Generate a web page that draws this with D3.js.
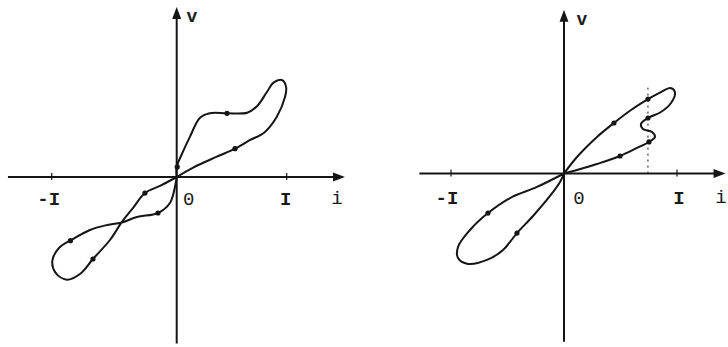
<!DOCTYPE html>
<html>
<head>
<meta charset="utf-8">
<script src="https://cdn.jsdelivr.net/npm/d3@7"></script>
<style>
  body { margin: 0; background: #fff; }
  text { font-family: "Liberation Mono", "DejaVu Sans Mono", monospace; fill: #1a1a1a; }
</style>
</head>
<body>
<div id="chart"></div>
<script>
// i (in units of I) and v
const leftUpper = [
  [0, 0], [0, 0.085], [0.05, 0.2], [0.12, 0.34], [0.21, 0.5], [0.3, 0.54],
  [0.46, 0.54], [0.64, 0.545], [0.73, 0.6], [0.82, 0.72], [0.88, 0.8],
  [0.96, 0.82], [0.995, 0.76], [0.985, 0.68], [0.91, 0.51], [0.8, 0.38],
  [0.66, 0.31], [0.53, 0.24], [0.36, 0.17], [0.15, 0.08], [0, 0]
];
const leftLower = [
  [0, 0], [-0.134, -0.076], [-0.254, -0.136], [-0.346, -0.258], [-0.438, -0.381],
  [-0.534, -0.534], [-0.67, -0.695], [-0.774, -0.822], [-0.88, -0.87],
  [-0.97, -0.81], [-0.995, -0.71], [-0.94, -0.6], [-0.82, -0.52],
  [-0.694, -0.449], [-0.57, -0.41], [-0.438, -0.385], [-0.318, -0.339],
  [-0.15, -0.305], [-0.054, -0.22], [-0.014, -0.085], [0, 0]
];
const leftMarks = [
  [0.005, 0.085], [0.457, 0.54], [0.53, 0.24],
  [-0.254, -0.136], [-0.67, -0.695], [-0.85, -0.54], [-0.15, -0.305]
];

const rightUpper = [
  [0, 0], [0.115, 0.146], [0.292, 0.323], [0.442, 0.447], [0.593, 0.562],
  [0.743, 0.659], [0.858, 0.721], [0.94, 0.757], [0.982, 0.72], [0.947, 0.624],
  [0.858, 0.544], [0.743, 0.491], [0.681, 0.438], [0.699, 0.394], [0.779, 0.367],
  [0.805, 0.323], [0.752, 0.279], [0.646, 0.226], [0.496, 0.155], [0.292, 0.084],
  [0.115, 0.031], [0, 0]
];
const rightLower = [
  [0, 0], [-0.239, -0.119], [-0.478, -0.217], [-0.673, -0.35], [-0.832, -0.5],
  [-0.938, -0.65], [-0.938, -0.748], [-0.85, -0.8], [-0.681, -0.765],
  [-0.54, -0.677], [-0.416, -0.527], [-0.274, -0.376], [-0.124, -0.199],
  [-0.035, -0.075], [0, 0]
];
const rightMarks = [
  [0.442, 0.447], [0.743, 0.659], [0.743, 0.491], [0.752, 0.279], [0.496, 0.155],
  [-0.673, -0.35], [-0.416, -0.527]
];

const tickValues = [-1, 0, 1];
const tickLabels = ["-I", "0", "I"];

const width = 728, height = 347;
const svg = d3.select("#chart").append("svg")
  .attr("width", width).attr("height", height);

const panels = [
  {
    x: d3.scaleLinear().domain([-1, 0, 1]).range([51.7, 176.7, 286.7]),
    y: d3.scaleLinear().domain([-1, 1]).range([177 + 118, 177 - 118]),
    iExtent: [-1.35, 1.53], vExtent: [-1.41, 1.44],
    loops: [leftUpper, leftLower], marks: leftMarks,
    labelDx: [-3, 12, -1], labelDy: 28, iLabel: 337, vLabel: 192
  },
  {
    x: d3.scaleLinear().domain([-1, 1]).range([451, 677]),
    y: d3.scaleLinear().domain([-1, 1]).range([173.5 + 113, 173.5 - 113]),
    iExtent: [-1.28, 1.43], vExtent: [-1.49, 1.45],
    loops: [rightUpper, rightLower], marks: rightMarks,
    labelDx: [-4, 15, 2], labelDy: 30, iLabel: 721, vLabel: 582,
    guide: 0.743
  }
];

const ink = "#151515";

panels.forEach(p => {
  const g = svg.append("g");
  const x0 = p.x(0), y0 = p.y(0);
  const xL = p.x(p.iExtent[0]), xR = p.x(p.iExtent[1]);
  const yB = p.y(p.vExtent[0]), yT = p.y(p.vExtent[1]);

  // axes
  g.append("line").attr("x1", xL).attr("x2", xR - 4).attr("y1", y0).attr("y2", y0)
    .attr("stroke", ink).attr("stroke-width", 2);
  g.append("line").attr("x1", x0).attr("x2", x0).attr("y1", yB).attr("y2", yT + 4)
    .attr("stroke", ink).attr("stroke-width", 2);
  g.append("path")
    .attr("d", `M${xR},${y0} L${xR - 12},${y0 - 4.5} L${xR - 12},${y0 + 4.5} Z`)
    .attr("fill", ink);
  g.append("path")
    .attr("d", `M${x0},${yT} L${x0 - 4.5},${yT + 12} L${x0 + 4.5},${yT + 12} Z`)
    .attr("fill", ink);

  // ticks at -I and I
  [-1, 1].forEach(t => {
    g.append("line").attr("x1", p.x(t)).attr("x2", p.x(t))
      .attr("y1", y0 - 4).attr("y2", y0 + 3)
      .attr("stroke", ink).attr("stroke-width", 1.2);
  });

  if (p.guide) {
    g.append("line").attr("x1", p.x(p.guide)).attr("x2", p.x(p.guide))
      .attr("y1", p.y(0.76)).attr("y2", y0)
      .attr("stroke", ink).attr("stroke-width", 1).attr("stroke-dasharray", "2,4");
  }

  // tick labels
  tickValues.forEach((t, k) => {
    g.append("text").attr("x", p.x(t) + p.labelDx[k]).attr("y", y0 + p.labelDy)
      .attr("text-anchor", "middle").style("font-size", "19px")
      .style("font-weight", k === 1 ? "normal" : "bold")
      .text(tickLabels[k]);
  });
  g.append("text").attr("x", p.iLabel).attr("y", y0 + p.labelDy - 1)
    .attr("text-anchor", "middle").style("font-size", "19px").text("i");
  g.append("text").attr("x", p.vLabel).attr("y", yT + 15)
    .attr("text-anchor", "middle").style("font-size", "18px")
    .style("font-weight", "bold").text("v");

  // loops
  const line = d3.line()
    .x(d => p.x(d[0])).y(d => p.y(d[1]))
    .curve(d3.curveCatmullRom.alpha(0.5));
  p.loops.forEach(loop => {
    g.append("path").datum(loop).attr("d", line)
      .attr("fill", "none").attr("stroke", ink).attr("stroke-width", 2);
  });

  g.selectAll("circle.mark").data(p.marks).enter().append("circle")
    .attr("class", "mark")
    .attr("cx", d => p.x(d[0])).attr("cy", d => p.y(d[1]))
    .attr("r", 2.6).attr("fill", ink);
});
</script>
</body>
</html>
